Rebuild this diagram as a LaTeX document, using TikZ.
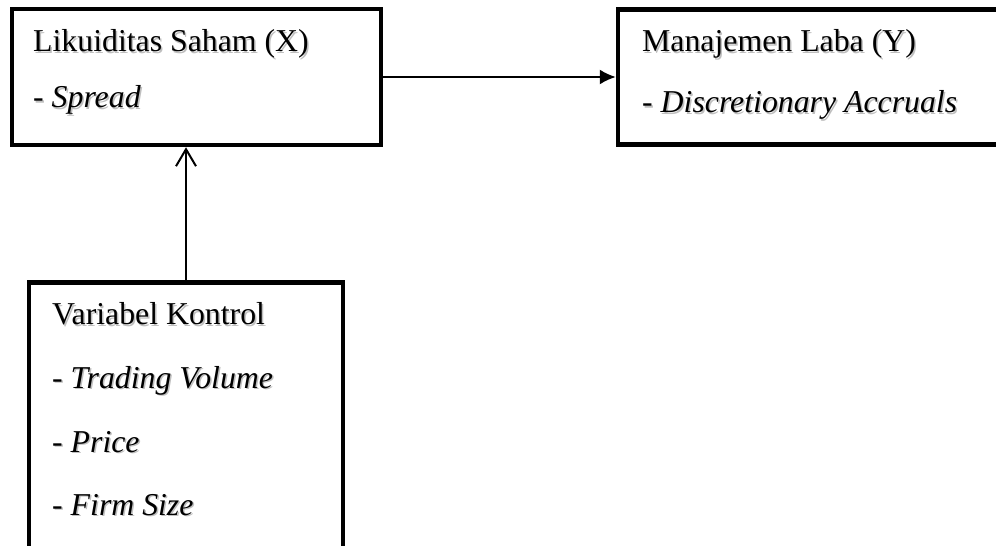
\documentclass[tikz,border=0pt]{standalone}
\usepackage{fontspec}
\setmainfont{Liberation Serif}
\usetikzlibrary{arrows.meta}
\tikzset{
  box/.style={draw=black, line width=4.5bp, rectangle, inner sep=0pt, fill=white},
  lbl/.style={anchor=base west, inner sep=0pt, font=\fontsize{31.8bp}{38bp}\selectfont, text=black},
  shd/.style={anchor=base west, inner sep=0pt, font=\fontsize{31.8bp}{38bp}\selectfont, text=black!25},
  conn/.style={line width=2bp, draw=black}
}
\begin{document}
\begin{tikzpicture}[x=1bp,y=-1bp]
\useasboundingbox (0,0) rectangle (996,546);
\clip (0,0) rectangle (996,546);
\fill[white] (0,0) rectangle (996,546);
% boxes
\node[box, minimum width=369bp, minimum height=136bp] (bx) at (196.5,77) {};
\node[box, minimum width=382bp, minimum height=135bp] (by) at (809,77) {};
\node[box, minimum width=314bp, minimum height=280bp] (bk) at (186,422.5) {};
% box X text
\node[shd] (bxs1) at (34.5,53.2) {Likuiditas Saham (X)};
\node[lbl] (bx1) at (33,51.7) {Likuiditas Saham (X)};
\node[shd] (bxs2) at (34.5,109.5) {- \textit{Spread}};
\node[lbl] (bx2) at (33,108) {- \textit{Spread}};
% box Y text
\node[shd] (bys1) at (643.5,53.5) {Manajemen Laba (Y)};
\node[lbl] (by1) at (642,52) {Manajemen Laba (Y)};
\node[shd] (bys2) at (643.5,114.5) {- \textit{Discretionary Accruals}};
\node[lbl] (by2) at (642,113) {- \textit{Discretionary Accruals}};
% control box text
\node[shd] (bks1) at (53.5,326.5) {Variabel Kontrol};
\node[lbl] (bk1) at (52,325) {Variabel Kontrol};
\node[shd] (bks2) at (53.5,389.5) {- \textit{Trading Volume}};
\node[lbl] (bk2) at (52,388) {- \textit{Trading Volume}};
\node[shd] (bks3) at (53.5,453.5) {- \textit{Price}};
\node[lbl] (bk3) at (52,452) {- \textit{Price}};
\node[shd] (bks4) at (53.5,516.5) {- \textit{Firm Size}};
\node[lbl] (bk4) at (52,515) {- \textit{Firm Size}};
% connectors
\draw[conn, -{Latex[length=16bp,width=15bp]}] (bx.east) -- (by.west);
\draw[conn, -{Straight Barb[length=17bp,width=20bp,line width=2bp]}] (bk.north) -- (bk.north |- bx.south);
\end{tikzpicture}
\end{document}
